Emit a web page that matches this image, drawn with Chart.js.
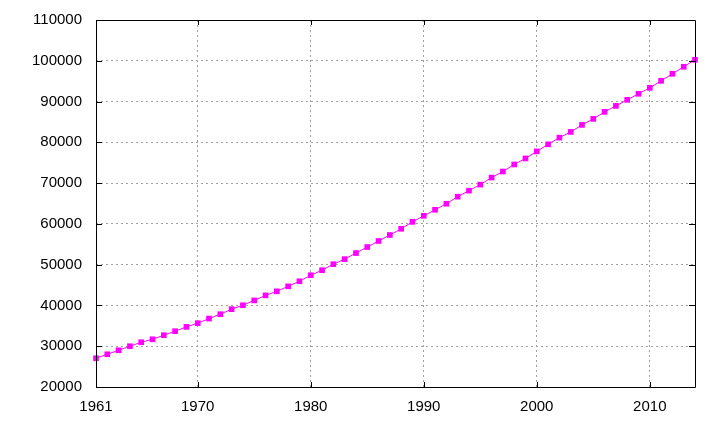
<!DOCTYPE html>
<html>
<head>
<meta charset="utf-8">
<script src="https://cdn.jsdelivr.net/npm/chart.js@4/dist/chart.umd.min.js"></script>
<style>
html,body{margin:0;padding:0;background:#fff;}
#wrap{width:725px;height:426px;}
</style>
</head>
<body>
<div id="wrap"><canvas id="c" width="725" height="426"></canvas></div>
<script>
const years = [1961,1962,1963,1964,1965,1966,1967,1968,1969,1970,1971,1972,1973,1974,1975,1976,1977,1978,1979,1980,1981,1982,1983,1984,1985,1986,1987,1988,1989,1990,1991,1992,1993,1994,1995,1996,1997,1998,1999,2000,2001,2002,2003,2004,2005,2006,2007,2008,2009,2010,2011,2012,2013,2014];
const values = [27050,28030,29010,30000,30980,31700,32700,33690,34740,35650,36780,37860,39090,40050,41230,42470,43460,44690,45930,47410,48640,50120,51360,52840,54320,55800,57280,58800,60500,61980,63460,64940,66670,68150,69630,71360,72840,74570,76050,77780,79510,81150,82550,84270,85750,87470,88940,90420,91900,93370,95090,96810,98530,100250];
const xTickValues = [1961,1970,1980,1990,2000,2010];
const yMin = 20000, yMax = 110000, yStep = 10000;

const framePlugin = {
  id: 'frame',
  afterDatasetsDraw(chart) {
    const {ctx, chartArea: a, scales} = chart;
    ctx.save();
    ctx.strokeStyle = '#000';
    ctx.lineWidth = 1;
    ctx.setLineDash([]);
    ctx.beginPath();
    ctx.rect(Math.round(a.left)+0.5, Math.round(a.top)+0.5, Math.round(a.right-a.left), Math.round(a.bottom-a.top));
    scales.y.ticks.forEach(t => {
      const y = Math.round(scales.y.getPixelForValue(t.value)) + 0.5;
      ctx.moveTo(a.left, y); ctx.lineTo(a.left + 6, y);
      ctx.moveTo(a.right, y); ctx.lineTo(a.right - 6, y);
    });
    scales.x.ticks.forEach(t => {
      const x = Math.round(scales.x.getPixelForValue(t.value)) + 0.5;
      ctx.moveTo(x, a.bottom); ctx.lineTo(x, a.bottom - 5);
      ctx.moveTo(x, a.top); ctx.lineTo(x, a.top + 5);
    });
    ctx.stroke();
    ctx.restore();
  }
};

new Chart(document.getElementById('c'), {
  type: 'line',
  data: {
    datasets: [{
      data: years.map((yr, i) => ({x: yr, y: values[i]})),
      borderColor: '#ff00ff',
      backgroundColor: '#ff00ff',
      borderWidth: 1,
      pointStyle: 'rect',
      pointRadius: 4,
      pointBorderWidth: 0,
      tension: 0,
      clip: false
    }]
  },
  options: {
    responsive: false,
    animation: false,
    events: [],
    plugins: { legend: {display: false}, tooltip: {enabled: false} },
    layout: { padding: {top: 20, right: 30, left: 0, bottom: 0} },
    scales: {
      x: {
        type: 'linear',
        min: 1961, max: 2014,
        afterBuildTicks(scale) { scale.ticks = xTickValues.map(v => ({value: v})); },
        afterFit(scale) { scale.height = 39; scale.paddingLeft = 0; scale.paddingRight = 0; },
        grid: { drawTicks: false, tickLength: 0, color: '#a0a0a0', lineWidth: 1 },
        border: { display: false, dash: [2, 3] },
        ticks: { color: '#000', padding: 11, maxRotation: 0, autoSkip: false,
          font: {family: 'Liberation Sans', size: 15},
          callback: v => String(v) }
      },
      y: {
        min: yMin, max: yMax,
        afterFit(scale) { scale.width = 96; scale.paddingTop = 0; scale.paddingBottom = 0; },
        grid: { drawTicks: false, tickLength: 0, color: '#a0a0a0', lineWidth: 1 },
        border: { display: false, dash: [2, 3] },
        ticks: { stepSize: yStep, color: '#000', padding: 14,
          font: {family: 'Liberation Sans', size: 15},
          callback: v => String(v) }
      }
    }
  },
  plugins: [framePlugin]
});
</script>
</body>
</html>
